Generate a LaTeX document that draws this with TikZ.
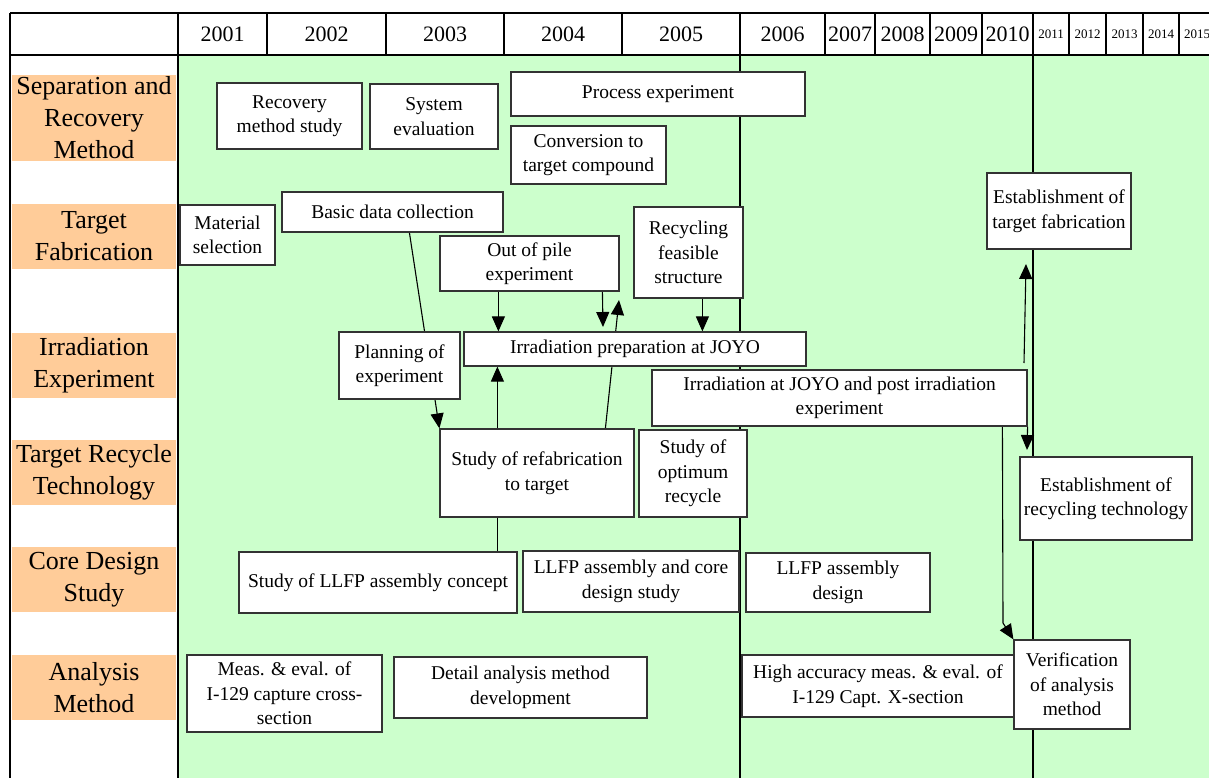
\documentclass[tikz,border=0pt]{standalone}
\usepackage{fontspec}
\setmainfont{Liberation Serif}
\usetikzlibrary{arrows.meta,calc}
\pgfdeclarelayer{back}
\pgfdeclarelayer{mid}
\pgfsetlayers{back,mid,main}
\definecolor{lgreen}{HTML}{CCFFCC}
\definecolor{lorange}{HTML}{FFCC99}
\definecolor{bline}{HTML}{333333}
\tikzset{
  box/.style={draw=bline, line width=1.2pt, fill=white, align=center, inner sep=2pt,
    font=\fontsize{19.5}{24.5}\selectfont},
  band/.style={fill=lorange, align=center, inner sep=0pt, font=\fontsize{26}{32}\selectfont},
  yr/.style={font=\fontsize{22}{26}\selectfont, inner sep=0pt},
  syr/.style={font=\fontsize{13}{15}\selectfont, inner sep=0pt},
  gridline/.style={line width=2pt, black},
  conn/.style={line width=1.1pt, black},
  arr/.style={conn, -{Triangle[length=15pt,width=13pt]}},
}
\newcommand\mkbox[6]{%
  \node[box, minimum width={(#4-#2)*1pt}, minimum height={(#5-#3)*1pt}]
    (#1) at ({(#2+#4)/2},{(#3+#5)/2}) {#6};}
\begin{document}
\begin{tikzpicture}[x=1pt,y=-1pt]
\useasboundingbox (0,0) rectangle (1209,778);
\clip (0,0) rectangle (1209,778);
\begin{pgfonlayer}{back}
  \fill[white] (0,0) rectangle (1209,778);
  \fill[lgreen] (178,55) rectangle (1215,778);
  \draw[gridline] (10,13) -- (1215,13);
  \draw[gridline] (10,55) -- (1215,55);
  \foreach \x in {10,178,740,1033} \draw[gridline] (\x,13) -- (\x,778);
  \foreach \x in {267,386,504,622,825,875,930,982,1069,1106,1143,1179} \draw[gridline] (\x,13) -- (\x,55);
\end{pgfonlayer}
% header years
\node[yr] (y01) at (222.5,34) {2001};
\node[yr] (y02) at (326.5,34) {2002};
\node[yr] (y03) at (445,34) {2003};
\node[yr] (y04) at (563,34) {2004};
\node[yr] (y05) at (681,34) {2005};
\node[yr] (y06) at (782.5,34) {2006};
\node[yr] (y07) at (850,34) {2007};
\node[yr] (y08) at (902.5,34) {2008};
\node[yr] (y09) at (956,34) {2009};
\node[yr] (y10) at (1007.5,34) {2010};
\node[syr] (y11) at (1051,34) {2011};
\node[syr] (y12) at (1087.5,34) {2012};
\node[syr] (y13) at (1124.5,34) {2013};
\node[syr] (y14) at (1161,34) {2014};
\node[syr] (y15) at (1197,34) {2015};
% row labels
\node[band, minimum width=164pt, minimum height=86pt] (lsep) at (94,118) {Separation and\\Recovery\\Method};
\node[band, minimum width=164pt, minimum height=65pt] (lfab) at (94,236.5) {Target\\Fabrication};
\node[band, minimum width=164pt, minimum height=65pt] (lirr) at (94,365.5) {Irradiation\\Experiment};
\node[band, minimum width=164pt, minimum height=65pt] (lrec) at (94,472.5) {Target Recycle\\Technology};
\node[band, minimum width=164pt, minimum height=65pt] (lcore) at (94,579.5) {Core Design\\Study};
\node[band, minimum width=164pt, minimum height=65pt] (lana) at (94,687.5) {Analysis\\Method};
% boxes
\mkbox{rms}{217}{83}{362}{149}{Recovery\\method study}
\mkbox{sev}{370}{84}{498}{149}{System\\evaluation}
\mkbox{pex}{511}{72}{805}{116}{Process experiment}
\mkbox{ctc}{511}{126}{666}{184}{Conversion to\\target compound}
\mkbox{msel}{180}{205}{275}{265}{Material\\selection}
\mkbox{bdc}{282}{192}{503}{232}{Basic data collection}
\mkbox{oop}{440}{236}{619}{291}{Out of pile\\experiment}
\mkbox{rfs}{634}{207}{743}{298}{Recycling\\feasible\\structure}
\mkbox{irp}{464}{332}{806}{366}{Irradiation preparation at JOYO}
\mkbox{plan}{339}{332}{460}{399}{Planning of\\experiment}
\mkbox{irr}{652}{370}{1027}{426}{Irradiation at JOYO and post irradiation\\experiment}
\mkbox{refab}{440}{429}{634}{517}{Study of refabrication\\to target}
\mkbox{opt}{639}{430}{747}{517}{Study of\\optimum\\recycle}
\mkbox{etf}{987}{173}{1131}{249}{Establishment of\\target fabrication}
\mkbox{ert}{1020}{457}{1192}{540}{Establishment of\\recycling technology}
\mkbox{llc}{239}{552}{517}{613}{Study of LLFP assembly concept}
\mkbox{llcore}{523}{551}{739}{612}{LLFP assembly and core\\design study}
\mkbox{lld}{746}{553}{930}{612}{LLFP assembly\\design}
\mkbox{meas}{187}{655}{382}{732}{Meas. \& eval. of\\I-129 capture cross-\\section}
\mkbox{dam}{394}{657}{647}{718}{Detail analysis method\\development}
\mkbox{ham}{742}{655}{1014}{717}{High accuracy meas. \& eval. of\\I-129 Capt. X-section}
\mkbox{ver}{1014}{640}{1130}{729}{Verification\\of analysis\\method}
% free ends
\coordinate (tipc) at (603,327);
\coordinate (tipd) at (619,300);
\coordinate (starth) at (1024,363);
\coordinate (tiph) at (1026,264);
\coordinate (tipi) at (1027,450);
\coordinate (bendj) at (1003,623);
% connectors
\begin{pgfonlayer}{mid}
  \draw[arr] ([xshift=128pt]bdc.south west) -- (refab.north west);
  \draw[arr] ([xshift=59pt]oop.south west) -- ([xshift=59pt]oop.south west |- irp.north);
  \draw[arr] ([xshift=163pt]oop.south west) -- (tipc);
  \draw[arr] ([xshift=166pt]refab.north west) -- (tipd);
  \draw[arr] ([xshift=69pt]rfs.south west) -- ([xshift=69pt]rfs.south west |- irp.north);
  \draw[arr] ([xshift=58pt]refab.north west) -- ([xshift=58pt]refab.north west |- irp.south);
  \draw[conn] ([xshift=259pt]llc.north west) -- ([xshift=259pt]llc.north west |- refab.south);
  \draw[arr] (starth) -- (tiph);
  \draw[arr] (irr.south east) -- (tipi);
  \draw[arr] ([xshift=351pt]irr.south west) -- (bendj) -- (ver.north west);
\end{pgfonlayer}
\end{tikzpicture}
\end{document}
